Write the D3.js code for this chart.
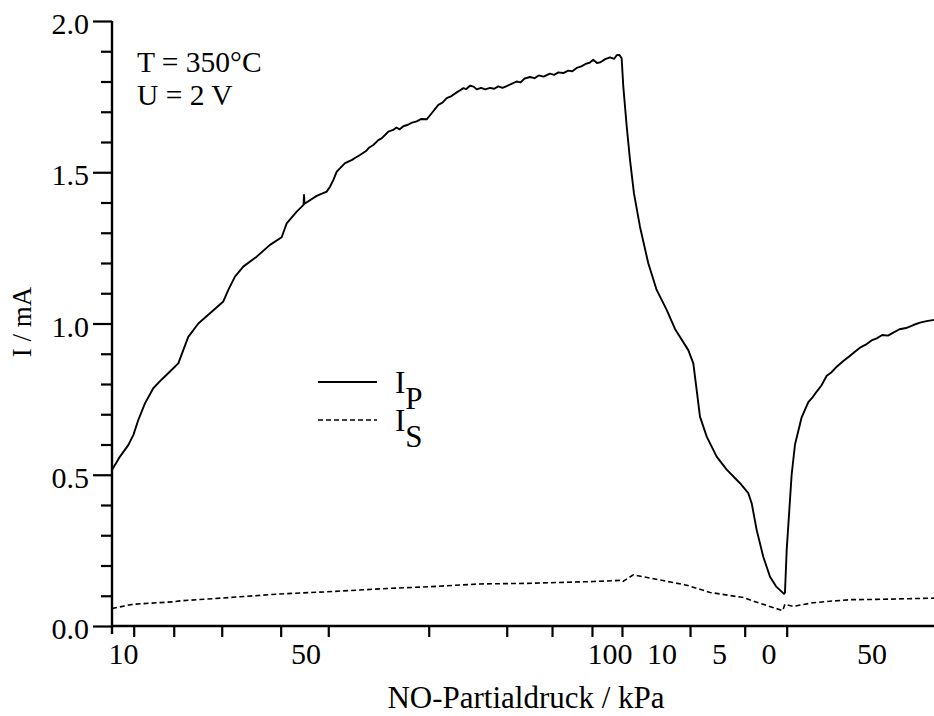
<!DOCTYPE html>
<html>
<head>
<meta charset="utf-8">
<script src="https://cdn.jsdelivr.net/npm/d3@7"></script>
<style>
  html, body { margin: 0; padding: 0; background: #fff; }
  svg { display: block; }
  text { font-family: "Liberation Serif", "Times New Roman", serif; fill: #000; }
</style>
</head>
<body>
<svg id="chart" width="934" height="716"></svg>
<script>
// ---- data (time axis in arbitrary units, 0..100) ----
const ipTime = [0,0.97,1.98,2.59,3.2,4.01,5.02,6.05,7.46,8.07,8.67,9.28,10.5,11.92,13.54,14.15,14.96,15.97,17.6,19.22,20.64,21.25,22.47,23.3,23.36,23.42,24.9,26.12,26.52,26.92,27.34,28.35,29.2,29.6,30.17,30.9,31.3,31.79,32.4,32.8,33.61,34.2,34.6,35.0,35.44,36.0,36.5,37.07,37.6,38.28,38.89,39.7,40.2,40.72,41.3,41.93,42.4,42.74,43.1,43.55,44.0,44.37,44.9,45.4,45.99,46.5,47.0,47.5,48.02,48.6,49.23,49.7,50.2,50.85,51.4,51.9,52.5,53.28,53.8,54.3,54.9,55.5,56.0,56.53,57.1,57.6,58.1,58.55,59.0,59.37,60.0,60.58,61.1,61.4,61.72,62.0,62.2,62.62,63.02,63.5,64.23,65.24,66.26,67.48,68.49,70.11,70.72,71.13,71.53,72.35,73.56,74.78,76.4,77.41,77.82,78.43,79.23,80.05,80.78,81.75,81.87,82.08,82.27,82.68,83.09,83.9,84.71,85.2,85.73,86.3,86.95,87.5,88.2,88.97,89.6,90.3,91.0,91.7,92.4,93.03,93.7,94.4,95.05,95.8,96.6,97.48,98.3,99.1,100];
const ipCurrent = [0.516,0.56,0.598,0.631,0.681,0.736,0.786,0.815,0.852,0.868,0.912,0.956,1.0,1.034,1.073,1.111,1.155,1.188,1.221,1.26,1.285,1.331,1.37,1.392,1.425,1.396,1.422,1.436,1.452,1.474,1.502,1.53,1.541,1.548,1.557,1.57,1.582,1.59,1.606,1.612,1.634,1.64,1.648,1.642,1.652,1.657,1.664,1.668,1.676,1.675,1.695,1.723,1.73,1.745,1.752,1.764,1.772,1.778,1.775,1.786,1.783,1.774,1.779,1.774,1.779,1.776,1.784,1.779,1.785,1.792,1.8,1.797,1.81,1.815,1.811,1.82,1.816,1.826,1.822,1.83,1.828,1.836,1.834,1.845,1.85,1.858,1.862,1.872,1.861,1.863,1.874,1.88,1.875,1.887,1.888,1.877,1.784,1.651,1.54,1.43,1.32,1.199,1.111,1.045,0.982,0.912,0.868,0.78,0.692,0.626,0.56,0.517,0.472,0.439,0.406,0.317,0.229,0.163,0.131,0.106,0.11,0.252,0.33,0.5,0.6,0.69,0.74,0.755,0.775,0.795,0.827,0.838,0.858,0.876,0.889,0.905,0.92,0.93,0.944,0.951,0.962,0.96,0.97,0.981,0.985,0.995,1.003,1.008,1.012];

const isTime = [0,2.59,7.46,8.27,13.14,20.44,26.12,33.42,38.69,44.77,50.45,58.55,62.0,62.2,63.42,66.67,69.91,72.75,76.8,78.83,81.59,81.87,82.88,85.32,86.95,89.78,93.03,100];
const isCurrent = [0.058,0.072,0.08,0.083,0.092,0.106,0.113,0.124,0.13,0.139,0.141,0.147,0.151,0.148,0.169,0.152,0.135,0.111,0.094,0.075,0.051,0.072,0.065,0.077,0.081,0.087,0.088,0.092];

// x-axis: tick times and pressure labels
const xTickTimes = [2.64,7.51,13.35,20.52,26.31,38.53,48.02,53.53,58.39,62.04,70.32,76.97,82.08];
const xLabelTimes = [1.40,23.6,60.58,66.91,73.91,79.93,92.46];
const xLabelTexts = ["10","50","100","10","5","0","50"];

const yMajorTicks = [0,0.5,1.0,1.5,2.0];
const yMinorTicks = [0.1,0.2,0.3,0.4,0.6,0.7,0.8,0.9,1.1,1.2,1.3,1.4,1.6,1.7,1.8,1.9];

// ---- drawing ----
const svg = d3.select("#chart");
const x = d3.scaleLinear().domain([0,100]).range([112,934]);
const y = d3.scaleLinear().domain([0,2]).range([626,21]);

const ipData = ipTime.map((t,i)=>({t, v: ipCurrent[i]}));
const isData = isTime.map((t,i)=>({t, v: isCurrent[i]}));
const line = d3.line().x(d=>x(d.t)).y(d=>y(d.v));

svg.append("path").datum(isData).attr("d", line)
  .attr("fill","none").attr("stroke","#000").attr("stroke-width",1.6)
  .attr("stroke-dasharray","5,3");
svg.append("path").datum(ipData).attr("d", line)
  .attr("fill","none").attr("stroke","#000").attr("stroke-width",1.9)
  .attr("stroke-linejoin","round");

// y axis
const yAxisMajor = d3.axisLeft(y).tickValues(yMajorTicks).tickSize(19).tickSizeOuter(0).tickPadding(4).tickFormat(d3.format(".1f"));
const yAxisMinor = d3.axisLeft(y).tickValues(yMinorTicks).tickSize(11).tickSizeOuter(0).tickFormat("");
const gy = svg.append("g").attr("transform","translate(112,0)").call(yAxisMajor);
const gy2 = svg.append("g").attr("transform","translate(112,0)").call(yAxisMinor);
[gy, gy2].forEach(g => {
  g.select(".domain").remove();
  g.selectAll(".tick line").attr("stroke","#000").attr("stroke-width",2.2);
});
gy.selectAll(".tick text").attr("font-size",30).attr("dy","0.42em");
// y axis line (extends slightly below the x axis)
svg.append("line").attr("x1",112).attr("x2",112).attr("y1",y(2)).attr("y2",y(0)+8)
  .attr("stroke","#000").attr("stroke-width",2.4);

// x axis
const xAxis = d3.axisBottom(x).tickValues(xTickTimes).tickSize(11).tickSizeOuter(0).tickFormat("");
const gx = svg.append("g").attr("transform","translate(0,626)").call(xAxis);
gx.select(".domain").remove();
gx.selectAll(".tick line").attr("stroke","#000").attr("stroke-width",2.2);
svg.append("line").attr("x1",x(0)).attr("x2",x(100)).attr("y1",y(0)).attr("y2",y(0))
  .attr("stroke","#000").attr("stroke-width",2.4);

svg.append("g").selectAll("text").data(xLabelTexts).join("text")
  .attr("x",(d,i)=>x(xLabelTimes[i])).attr("y",664)
  .attr("text-anchor","middle").attr("font-size",30).text(d=>d);

// axis titles
svg.append("text").attr("x",526).attr("y",708).attr("text-anchor","middle")
  .attr("font-size",31).text("NO-Partialdruck / kPa");
svg.append("text").attr("transform","translate(31,322) rotate(-90)").attr("text-anchor","middle")
  .attr("font-size",27).text("I / mA");

// annotation
svg.append("text").attr("x",137).attr("y",72).attr("font-size",29.5).text("T = 350°C");
svg.append("text").attr("x",137).attr("y",105).attr("font-size",29.5).text("U = 2 V");

// legend
const legend = svg.append("g");
legend.append("line").attr("x1",318).attr("x2",377).attr("y1",382).attr("y2",382)
  .attr("stroke","#000").attr("stroke-width",1.8);
legend.append("line").attr("x1",318).attr("x2",377).attr("y1",420).attr("y2",420)
  .attr("stroke","#000").attr("stroke-width",1.6).attr("stroke-dasharray","5,3");
const t1 = legend.append("text").attr("x",395).attr("y",393).attr("font-size",31);
t1.append("tspan").text("I");
t1.append("tspan").attr("dy",16).text("P");
const t2 = legend.append("text").attr("x",395).attr("y",431).attr("font-size",31);
t2.append("tspan").text("I");
t2.append("tspan").attr("dy",16).text("S");
</script>
</body>
</html>
